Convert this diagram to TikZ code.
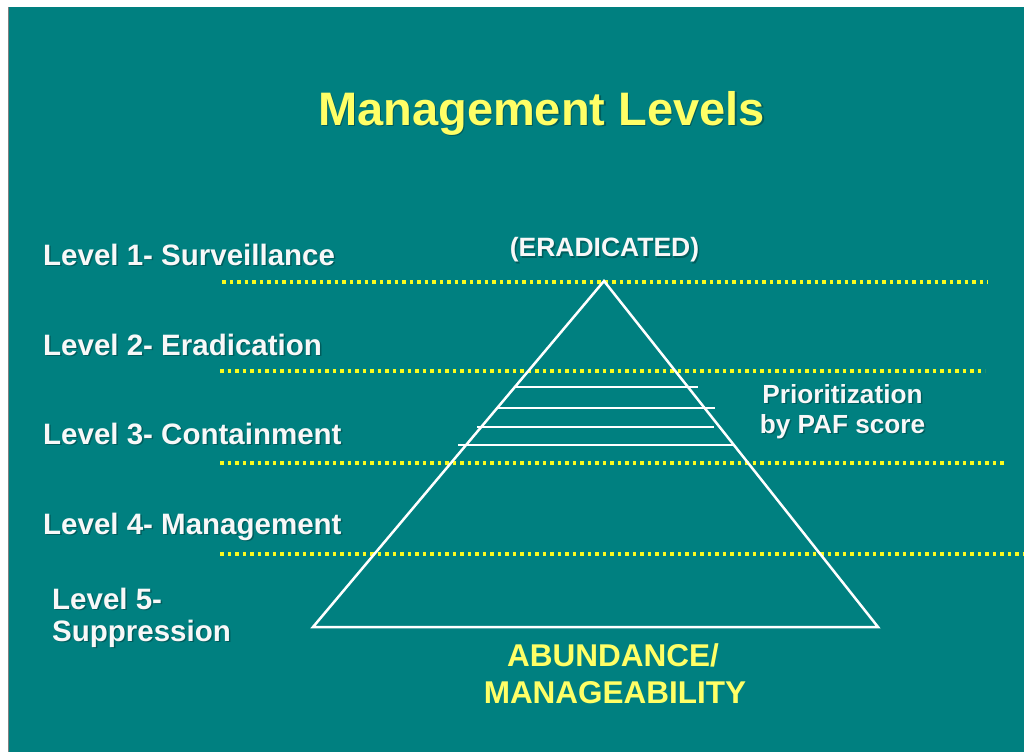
\documentclass[tikz,border=0pt]{standalone}
\usepackage{fontspec}
\setmainfont{Liberation Sans}
\definecolor{slideteal}{RGB}{0,128,128}
\definecolor{titleyellow}{RGB}{255,255,102}
\definecolor{dotyellow}{RGB}{250,250,30}
\definecolor{offwhite}{RGB}{248,248,248}
\definecolor{shadowteal}{RGB}{0,70,70}
\begin{document}
\begin{tikzpicture}[x=1pt,y=-1pt,
  lvl/.style={anchor=base west,text=offwhite,font=\bfseries\fontsize{29.5}{35}\selectfont,inner sep=0pt},
  lvlsh/.style={anchor=base west,text=shadowteal,font=\bfseries\fontsize{29.5}{35}\selectfont,inner sep=0pt,opacity=0.6},
  dotline/.style={draw=dotyellow,line width=3.5pt,dash pattern=on 3.5pt off 4pt},
  pyr/.style={draw=white,line width=2.5pt,line join=miter},
  band/.style={draw=white,line width=2pt}]
\useasboundingbox (0,0) rectangle (1024,752);
\fill[white] (0,0) rectangle (1024,752);
\fill[slideteal] (8,7) rectangle (1024,752);
\draw[gray,line width=1pt] (8.5,7) -- (8.5,752);
% title
\node[anchor=base west,text=shadowteal,opacity=0.6,font=\bfseries\fontsize{47}{56}\selectfont,inner sep=0pt] (titlesh) at (319.5,126.5) {Management Levels};
\node[anchor=base west,text=titleyellow,font=\bfseries\fontsize{47}{56}\selectfont,inner sep=0pt] (title) at (318,125) {Management Levels};
% dotted lines
\coordinate (d1a) at (222,282); \coordinate (d1b) at (988,282);
\coordinate (d2a) at (220,371); \coordinate (d2b) at (985,371);
\coordinate (d3a) at (220,463); \coordinate (d3b) at (1007,463);
\coordinate (d4a) at (220,554); \coordinate (d4b) at (1024,554);
\draw[dotline] (d1a) -- (d1b);
\draw[dotline] (d2a) -- (d2b);
\draw[dotline] (d3a) -- (d3b);
\draw[dotline] (d4a) -- (d4b);
% pyramid
\coordinate (apex) at (604,281);
\coordinate (bl) at (313,627);
\coordinate (br) at (878,627);
\draw[pyr] (apex) -- (br) -- (bl) -- cycle;
\coordinate (b1a) at (515,387); \coordinate (b1b) at (698,387);
\coordinate (b2a) at (497,408); \coordinate (b2b) at (715,408);
\coordinate (b3a) at (477,427); \coordinate (b3b) at (714,427);
\coordinate (b4a) at (458,445); \coordinate (b4b) at (733,445);
\draw[band] (b1a) -- (b1b);
\draw[band] (b2a) -- (b2b);
\draw[band] (b3a) -- (b3b);
\draw[band] (b4a) -- (b4b);
% level labels
\node[lvlsh] (l1s) at (44.5,266.5) {Level 1- Surveillance};
\node[lvl] (l1) at (43,265) {Level 1- Surveillance};
\node[lvlsh] (l2s) at (44.5,356.5) {Level 2- Eradication};
\node[lvl] (l2) at (43,355) {Level 2- Eradication};
\node[lvlsh] (l3s) at (44.5,445.5) {Level 3- Containment};
\node[lvl] (l3) at (43,444) {Level 3- Containment};
\node[lvlsh] (l4s) at (44.5,535.5) {Level 4- Management};
\node[lvl] (l4) at (43,534) {Level 4- Management};
\node[lvlsh] (l5as) at (53.5,610.5) {Level 5-};
\node[lvl] (l5a) at (52,609) {Level 5-};
\node[lvlsh] (l5bs) at (53.5,642.5) {Suppression};
\node[lvl] (l5b) at (52,641) {Suppression};
% eradicated
\node[anchor=base,text=shadowteal,opacity=0.6,font=\bfseries\fontsize{26.5}{32}\selectfont,inner sep=0pt] (erads) at (606,258) {(ERADICATED)};
\node[anchor=base,text=offwhite,font=\bfseries\fontsize{26.5}{32}\selectfont,inner sep=0pt] (erad) at (604.5,256.5) {(ERADICATED)};
% prioritization
\node[anchor=base,text=shadowteal,opacity=0.6,font=\bfseries\fontsize{26.2}{30}\selectfont,inner sep=0pt] (pri1s) at (844,404.5) {Prioritization};
\node[anchor=base,text=offwhite,font=\bfseries\fontsize{26.2}{30}\selectfont,inner sep=0pt] (pri1) at (842.5,403) {Prioritization};
\node[anchor=base,text=shadowteal,opacity=0.6,font=\bfseries\fontsize{26.2}{30}\selectfont,inner sep=0pt] (pri2s) at (844,434.5) {by PAF score};
\node[anchor=base,text=offwhite,font=\bfseries\fontsize{26.2}{30}\selectfont,inner sep=0pt] (pri2) at (842.5,433) {by PAF score};
% abundance
\node[anchor=base,text=titleyellow,font=\bfseries\fontsize{31.5}{36}\selectfont,inner sep=0pt] (ab1) at (613,666) {ABUNDANCE/};
\node[anchor=base,text=titleyellow,font=\bfseries\fontsize{31.5}{36}\selectfont,inner sep=0pt] (ab2) at (615,703) {MANAGEABILITY};
\end{tikzpicture}
\end{document}
